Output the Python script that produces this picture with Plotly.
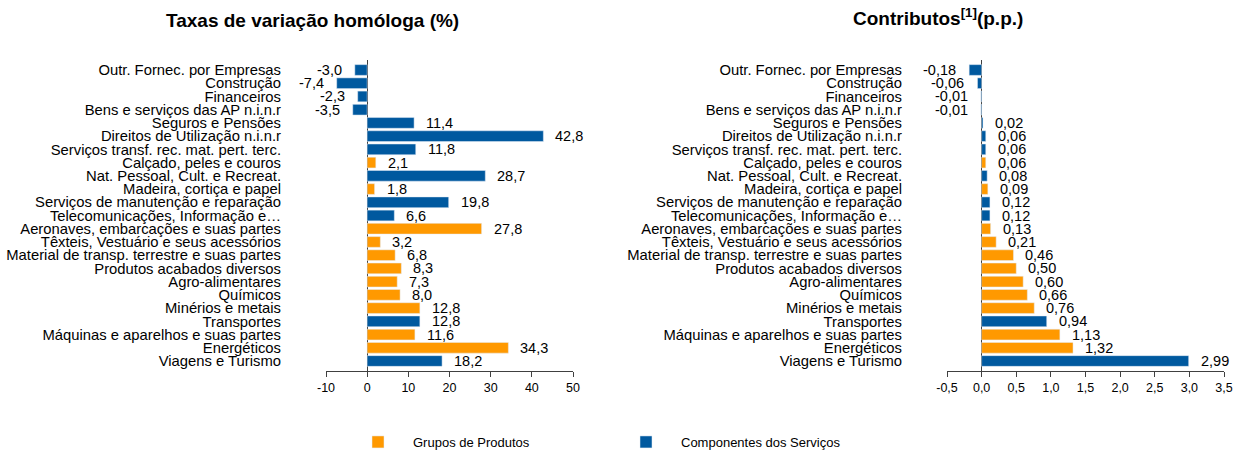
import plotly.graph_objects as go

# ---------------- data (top to bottom) ----------------
categories = [
    "Outr. Fornec. por Empresas",
    "Construção",
    "Financeiros",
    "Bens e serviços das AP n.i.n.r",
    "Seguros e Pensões",
    "Direitos de Utilização n.i.n.r",
    "Serviços transf. rec. mat. pert. terc.",
    "Calçado, peles e couros",
    "Nat. Pessoal, Cult. e Recreat.",
    "Madeira, cortiça e papel",
    "Serviços de manutenção e reparação",
    "Telecomunicações, Informação e…",
    "Aeronaves, embarcações e suas partes",
    "Têxteis, Vestuário e seus acessórios",
    "Material de transp. terrestre e suas partes",
    "Produtos acabados diversos",
    "Agro-alimentares",
    "Químicos",
    "Minérios e metais",
    "Transportes",
    "Máquinas e aparelhos e suas partes",
    "Energéticos",
    "Viagens e Turismo",
]
group = ["S", "S", "S", "S", "S", "S", "S", "P", "S", "P", "S", "S", "P",
         "P", "P", "P", "P", "P", "P", "S", "P", "P", "S"]
growth = [-3.0, -7.4, -2.3, -3.5, 11.4, 42.8, 11.8, 2.1, 28.7, 1.8, 19.8, 6.6,
          27.8, 3.2, 6.8, 8.3, 7.3, 8.0, 12.8, 12.8, 11.6, 34.3, 18.2]
contrib = [-0.18, -0.06, -0.01, -0.01, 0.02, 0.06, 0.06, 0.06, 0.08, 0.09, 0.12,
           0.12, 0.13, 0.21, 0.46, 0.50, 0.60, 0.66, 0.76, 0.94, 1.13, 1.32, 2.99]
series_names = {"P": "Grupos de Produtos", "S": "Componentes dos Serviços"}
growth_ticks = [-10, 0, 10, 20, 30, 40, 50]
growth_ticklabels = ["-10", "0", "10", "20", "30", "40", "50"]
contrib_ticks = [-0.5, 0.0, 0.5, 1.0, 1.5, 2.0, 2.5, 3.0, 3.5]
contrib_ticklabels = ["-0,5", "0,0", "0,5", "1,0", "1,5", "2,0", "2,5", "3,0", "3,5"]
title_left = "<b>Taxas de variação homóloga (%)</b>"
title_right = "<b>Contributos<sup>[1]</sup>(p.p.)</b>"

# ---------------- styles ----------------
ORANGE = "#FF9900"
BLUE = "#00599F"
AXIS = "#404040"
FONT = "Liberation Sans, Arial, sans-serif"
W, H = 1239, 451
colors = {"P": ORANGE, "S": BLUE}

fig = go.Figure()
for g in ["P", "S"]:
    idx = [i for i, t in enumerate(group) if t == g]
    fig.add_trace(go.Bar(
        y=[categories[i] for i in idx], x=[growth[i] for i in idx],
        orientation="h", marker_color=colors[g], name=series_names[g],
        legendgroup=g, xaxis="x", yaxis="y", hoverinfo="x+y"))
    fig.add_trace(go.Bar(
        y=[categories[i] for i in idx], x=[contrib[i] for i in idx],
        orientation="h", marker_color=colors[g], name=series_names[g],
        legendgroup=g, showlegend=False, xaxis="x2", yaxis="y2", hoverinfo="x+y"))

annotations = []
for cat, v in zip(categories, growth):
    annotations.append(dict(
        x=v, y=cat, xref="x", yref="y", text=f"{v:.1f}".replace(".", ","),
        showarrow=False, xanchor="left" if v >= 0 else "right",
        xshift=10 if v >= 0 else -11, font=dict(size=14.5, color="#000000")))
for cat, v in zip(categories, contrib):
    annotations.append(dict(
        x=v, y=cat, xref="x2", yref="y2", text=f"{v:.2f}".replace(".", ","),
        showarrow=False, xanchor="left" if v >= 0 else "right",
        xshift=10 if v >= 0 else -11, font=dict(size=14.5, color="#000000")))
annotations.append(dict(x=312 / W, y=1, xref="paper", yref="paper", yshift=40,
                        text=title_left, showarrow=False, xanchor="center",
                        yanchor="middle", font=dict(size=19, color="#000000")))
annotations.append(dict(x=938 / W, y=1, xref="paper", yref="paper", yshift=43,
                        text=title_right, showarrow=False, xanchor="center",
                        yanchor="middle", font=dict(size=19, color="#000000")))

xcommon = dict(showline=True, linecolor=AXIS, linewidth=1, ticks="outside",
               ticklen=5, tickcolor=AXIS, tickwidth=1, showgrid=False,
               zeroline=True, zerolinecolor=AXIS, zerolinewidth=1,
               tickfont=dict(size=12.5, color="#000000"), automargin=False,
               fixedrange=True, tickmode="array")
ycommon = dict(categoryorder="array", categoryarray=categories,
               autorange="reversed", showgrid=False, showline=False,
               zeroline=False, ticks="", tickfont=dict(size=14.8, color="#000000"),
               tickmode="array", tickvals=categories, ticktext=categories,
               ticklabelstandoff=44, automargin=False, fixedrange=True,
               domain=[0, 1])

fig.update_layout(
    width=W, height=H,
    margin=dict(l=0, r=0, t=60, b=80),
    paper_bgcolor="white", plot_bgcolor="white",
    font=dict(family=FONT, size=14, color="#000000"),
    separators=",.",
    barmode="overlay", bargap=0.19,
    xaxis=dict(domain=[326 / W, 573 / W], range=[-10, 50],
               tickvals=growth_ticks, ticktext=growth_ticklabels,
               anchor="y", **xcommon),
    yaxis=dict(anchor="x", **ycommon),
    xaxis2=dict(domain=[947 / W, 1224 / W], range=[-0.5, 3.5],
                tickvals=contrib_ticks, ticktext=contrib_ticklabels,
                anchor="y2", **xcommon),
    yaxis2=dict(anchor="x2", **ycommon),
    legend=dict(orientation="h", xref="container", yref="container",
                x=343 / W, xanchor="left", y=(H - 442) / H,
                yanchor="middle", entrywidth=193, entrywidthmode="pixels",
                itemwidth=60,
                font=dict(size=13, color="#000000"), traceorder="normal",
                bgcolor="rgba(0,0,0,0)"),
    annotations=annotations,
    showlegend=True,
)

fig.write_html("out.html")
